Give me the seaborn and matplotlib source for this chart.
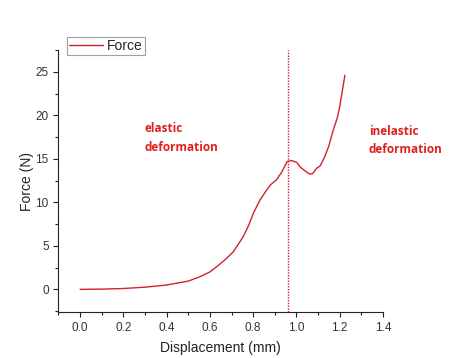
import matplotlib
matplotlib.use("Agg")
import matplotlib.pyplot as plt
import seaborn as sns
import pandas as pd
from matplotlib.ticker import MultipleLocator

displacement = [0.0, 0.1, 0.2, 0.3, 0.4, 0.5, 0.554, 0.6, 0.631, 0.67, 0.708, 0.754, 0.78, 0.8, 0.83, 0.862,
                0.88, 0.908, 0.93, 0.958, 0.978, 1.0, 1.02, 1.045, 1.062, 1.075, 1.093, 1.11, 1.13, 1.15,
                1.17, 1.19, 1.2, 1.212, 1.224]
force = [0.0, 0.03, 0.1, 0.25, 0.5, 0.95, 1.45, 2.0, 2.6, 3.4, 4.3, 6.05, 7.4, 8.7, 10.2, 11.4,
         12.0, 12.6, 13.4, 14.7, 14.8, 14.6, 14.0, 13.5, 13.25, 13.3, 13.9, 14.2, 15.2, 16.5,
         18.3, 19.8, 21.0, 22.8, 24.6]
line_x = 0.96
label_left = "elastic\ndeformation"
label_right = "inelastic\ndeformation"

df = pd.DataFrame({"Displacement (mm)": displacement, "Force (N)": force})

sns.set_style("ticks")
plt.rcParams['font.family'] = ['Liberation Sans', 'DejaVu Sans']

fig = plt.figure(figsize=(4.66, 3.58), dpi=100)
ax = fig.add_axes([0.1253, 0.1285, 0.8219 - 0.1253, 0.8603 - 0.1285])
red = "#d42030"
sns.lineplot(data=df, x="Displacement (mm)", y="Force (N)", ax=ax, color=red, lw=1.0, label="Force")
ax.axvline(line_x, color=red, lw=1.0, ls=(0, (1, 1)))

ax.set_xlim(-0.1, 1.4)
ax.set_ylim(-2.6, 27.5)
ax.xaxis.set_major_locator(MultipleLocator(0.2))
ax.xaxis.set_minor_locator(MultipleLocator(0.1))
ax.yaxis.set_major_locator(MultipleLocator(5))
ax.yaxis.set_minor_locator(MultipleLocator(2.5))
ax.set_xticks([0.0, 0.2, 0.4, 0.6, 0.8, 1.0, 1.2, 1.4])
ax.set_xticklabels(["0.0", "0.2", "0.4", "0.6", "0.8", "1.0", "1.2", "1.4"])
ax.tick_params(axis="both", which="major", length=3.5, width=0.8, labelsize=8.5, colors="#222222", labelcolor="#333333")
ax.tick_params(axis="both", which="minor", length=2, width=0.8, colors="#222222")
for s in ["top", "right"]:
    ax.spines[s].set_visible(False)
for s in ["left", "bottom"]:
    ax.spines[s].set_linewidth(0.8)
    ax.spines[s].set_color("#222222")
ax.set_xlabel("Displacement (mm)", fontsize=10, color="#222222", labelpad=5)
ax.set_ylabel("Force (N)", fontsize=10, color="#222222", labelpad=1)

txt_font = ['Open Sans', 'DejaVu Sans']
ax.text(0.30, 19.2, label_left, color="#e02020", fontsize=8.5, fontweight="bold", va="top", ha="left",
        linespacing=1.55, family=txt_font)
ax.text(1.335, 18.9, label_right, color="#e02020", fontsize=8.5, fontweight="bold", va="top", ha="left",
        linespacing=1.55, family=txt_font)

leg = ax.legend(loc="upper left", bbox_to_anchor=(0.027, 1.05), frameon=True, fontsize=10,
                handlelength=2.4, borderpad=0.15, handletextpad=0.3, fancybox=False, borderaxespad=0)
leg.get_frame().set_edgecolor("#888888")
leg.get_frame().set_linewidth(0.8)

fig.savefig("out.png", dpi=100)
